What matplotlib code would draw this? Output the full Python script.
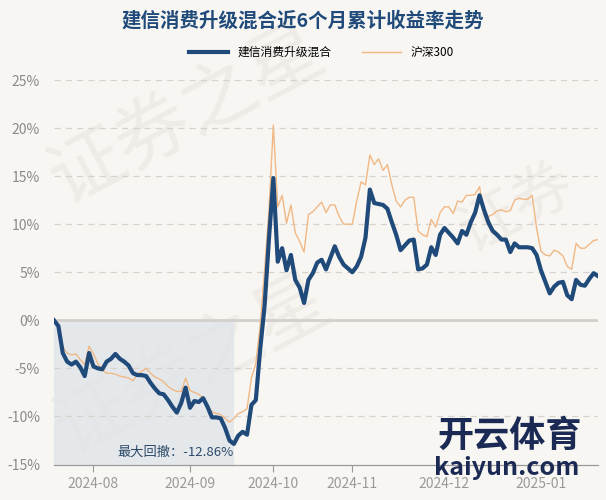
import numpy as np
import pandas as pd
import matplotlib
matplotlib.use("Agg")
import matplotlib.pyplot as plt

plt.rcParams['font.family'] = ['Noto Sans CJK SC', 'DejaVu Sans']
plt.rcParams['axes.unicode_minus'] = False

# Data (cumulative return, %), one value per trading day from 2024-07-19
fund = [0.0, -0.6, -3.4, -4.3, -4.6, -4.3, -4.9, -5.8, -3.4, -4.8,
        -5.0, -5.1, -4.3, -4.0, -3.5, -4.0, -4.3, -4.7, -5.5, -5.7,
        -5.7, -5.8, -6.5, -7.1, -7.6, -7.7, -8.3, -9.0, -9.6, -8.6,
        -7.0, -9.1, -8.4, -8.5, -8.1, -9.0, -10.1, -10.1, -10.2, -11.2,
        -12.5, -12.86, -12.0, -11.6, -11.9, -8.8, -8.3, -3.0, 1.5, 8.5,
        14.8, 6.1, 7.5, 5.2, 6.8, 4.2, 3.4, 1.8, 4.2, 4.9,
        6.0, 6.3, 5.3, 6.5, 7.7, 6.6, 5.8, 5.4, 5.0, 5.6,
        6.6, 8.6, 13.6, 12.2, 12.1, 12.0, 11.6, 10.2, 8.9, 7.3,
        7.8, 8.3, 8.4, 5.3, 5.4, 5.8, 7.6, 6.8, 8.9, 9.6,
        9.1, 8.6, 8.0, 9.3, 8.9, 10.2, 11.2, 13.0, 11.5, 10.2,
        9.3, 8.9, 8.4, 8.4, 7.1, 8.0, 7.6, 7.6, 7.6, 7.5,
        6.8, 5.2, 4.0, 2.8, 3.5, 3.9, 4.0, 2.6, 2.2, 4.2,
        3.7, 3.6, 4.3, 4.9, 4.6]

hs300 = [0.0, -0.8, -2.8, -3.4, -3.6, -3.5, -4.1, -4.6, -2.7, -3.5,
         -4.5, -5.2, -5.5, -5.5, -5.6, -5.8, -5.9, -6.0, -6.3, -5.6,
         -5.3, -5.0, -5.5, -5.9, -6.1, -6.4, -6.9, -7.2, -7.4, -7.4,
         -6.0, -7.3, -7.5, -7.7, -8.1, -8.8, -9.5, -9.7, -9.8, -10.2,
         -10.6, -10.2, -9.7, -9.5, -9.2, -6.0, -4.5, -0.5, 5.2, 11.5,
         20.3, 11.8, 13.0, 10.1, 12.0, 9.1, 8.2, 7.1, 11.0, 11.3,
         11.8, 12.3, 11.2, 12.0, 12.0, 10.8, 10.0, 10.0, 10.0, 12.4,
         14.4, 14.1, 17.2, 16.2, 16.8, 15.6, 16.2, 14.1, 12.4, 11.8,
         12.5, 12.8, 12.8, 9.3, 8.9, 8.7, 10.5, 9.7, 11.2, 11.8,
         11.8, 11.1, 12.4, 12.3, 13.0, 13.0, 13.1, 13.9, 11.0, 10.8,
         11.0, 11.4, 11.5, 11.3, 11.4, 12.5, 12.7, 12.6, 12.6, 13.0,
         9.6, 7.2, 6.8, 6.7, 7.3, 7.1, 6.7, 5.6, 5.3, 8.0,
         7.5, 7.5, 7.9, 8.3, 8.4]

series_names = ["建信消费升级混合", "沪深300"]
max_drawdown = -12.86

# trading calendar (weekdays minus exchange holidays)
holidays = pd.to_datetime(["2024-09-16", "2024-09-17", "2024-10-01", "2024-10-02",
                           "2024-10-03", "2024-10-04", "2024-10-07", "2025-01-01"])
days = pd.bdate_range("2024-07-19", "2025-02-28")
days = days[~days.isin(holidays)][:len(fund)]
x = np.arange(len(fund))

month_key = days.to_period("M")
tick_idx = [i for i in range(1, len(days)) if month_key[i] != month_key[i - 1]]
tick_lbl = [days[i].strftime("%Y-%m") for i in tick_idx]

bg = "#f8f6f2"
fig = plt.figure(figsize=(6.06, 5.0), dpi=100, facecolor=bg)
ax = fig.add_axes([0.0891, 0.071, 0.8977, 0.769], facecolor=bg)

# faint watermarks, kept under the lines
for wx, wy, s, fs in [(0.06, 0.56, "证券之星", 54), (0.07, 0.06, "证券之星", 54),
                      (0.74, 0.47, "证券", 44)]:
    ax.text(wx, wy, s, transform=fig.transFigure, fontsize=fs, color="#efece7",
            rotation=28, zorder=0.5, ha="left", va="bottom", clip_on=False)

ax.set_ylim(-15, 25)
ax.set_xlim(0, len(fund) - 1)

for v in range(-10, 30, 5):
    if v == 0:
        continue
    ax.axhline(v, color="#d6d3ce", lw=0.9, ls=(0, (5, 4)), zorder=1)
ax.axhline(0, color="#d3d0cb", lw=2.0, zorder=1)

# max drawdown shading
peak = int(np.argmax(fund[:42]))
trough = int(np.argmin(fund))
ax.fill_between(x[peak:trough + 1], -15, fund[peak], color="#e1e6ea", alpha=0.85,
                lw=0, zorder=0.8)
ax.text(trough, -14.4, "最大回撤：%.2f%%" % max_drawdown, ha="right", va="bottom",
        fontsize=9.5, color="#2d4a6a", zorder=5)

l2, = ax.plot(x, hs300, color="#f0b885", lw=1.0, zorder=3, label=series_names[1])
l1, = ax.plot(x, fund, color="#1f4a7a", lw=3.0, zorder=4, label=series_names[0],
              solid_joinstyle="round")

ax.set_yticks(range(-15, 30, 5))
ax.set_yticklabels([f"{v}%" for v in range(-15, 30, 5)])
ax.set_xticks(tick_idx)
ax.set_xticklabels(tick_lbl)
ax.tick_params(axis="y", length=0, labelsize=10, labelcolor="#8a8a8a", pad=10)
ax.tick_params(axis="x", length=5, width=0.8, color="#9a9a9a", labelsize=10,
               labelcolor="#9a9a9a", pad=4)
for side in ["top", "right", "left"]:
    ax.spines[side].set_visible(False)
ax.spines["bottom"].set_color("#9a9a9a")
ax.spines["bottom"].set_linewidth(0.9)

fig.text(0.5, 0.958, "建信消费升级混合近6个月累计收益率走势", ha="center", va="center",
         fontsize=14, fontweight="bold", color="#1f4a7a")
fig.legend(handles=[l1, l2], loc="center", bbox_to_anchor=(0.53, 0.895), ncol=2,
           frameon=False, fontsize=8.5, handlelength=3.3, columnspacing=2.6,
           handletextpad=0.8)

# logo text overlay
fig.text(0.722, 0.108, "开云体育", fontsize=26, fontweight="bold", color="#1b2a55", zorder=6)
fig.text(0.716, 0.05, "kaiyun.com", fontsize=18, fontweight="bold", color="#1b2a55", zorder=6)

fig.savefig("out.png", dpi=100, facecolor=bg)
